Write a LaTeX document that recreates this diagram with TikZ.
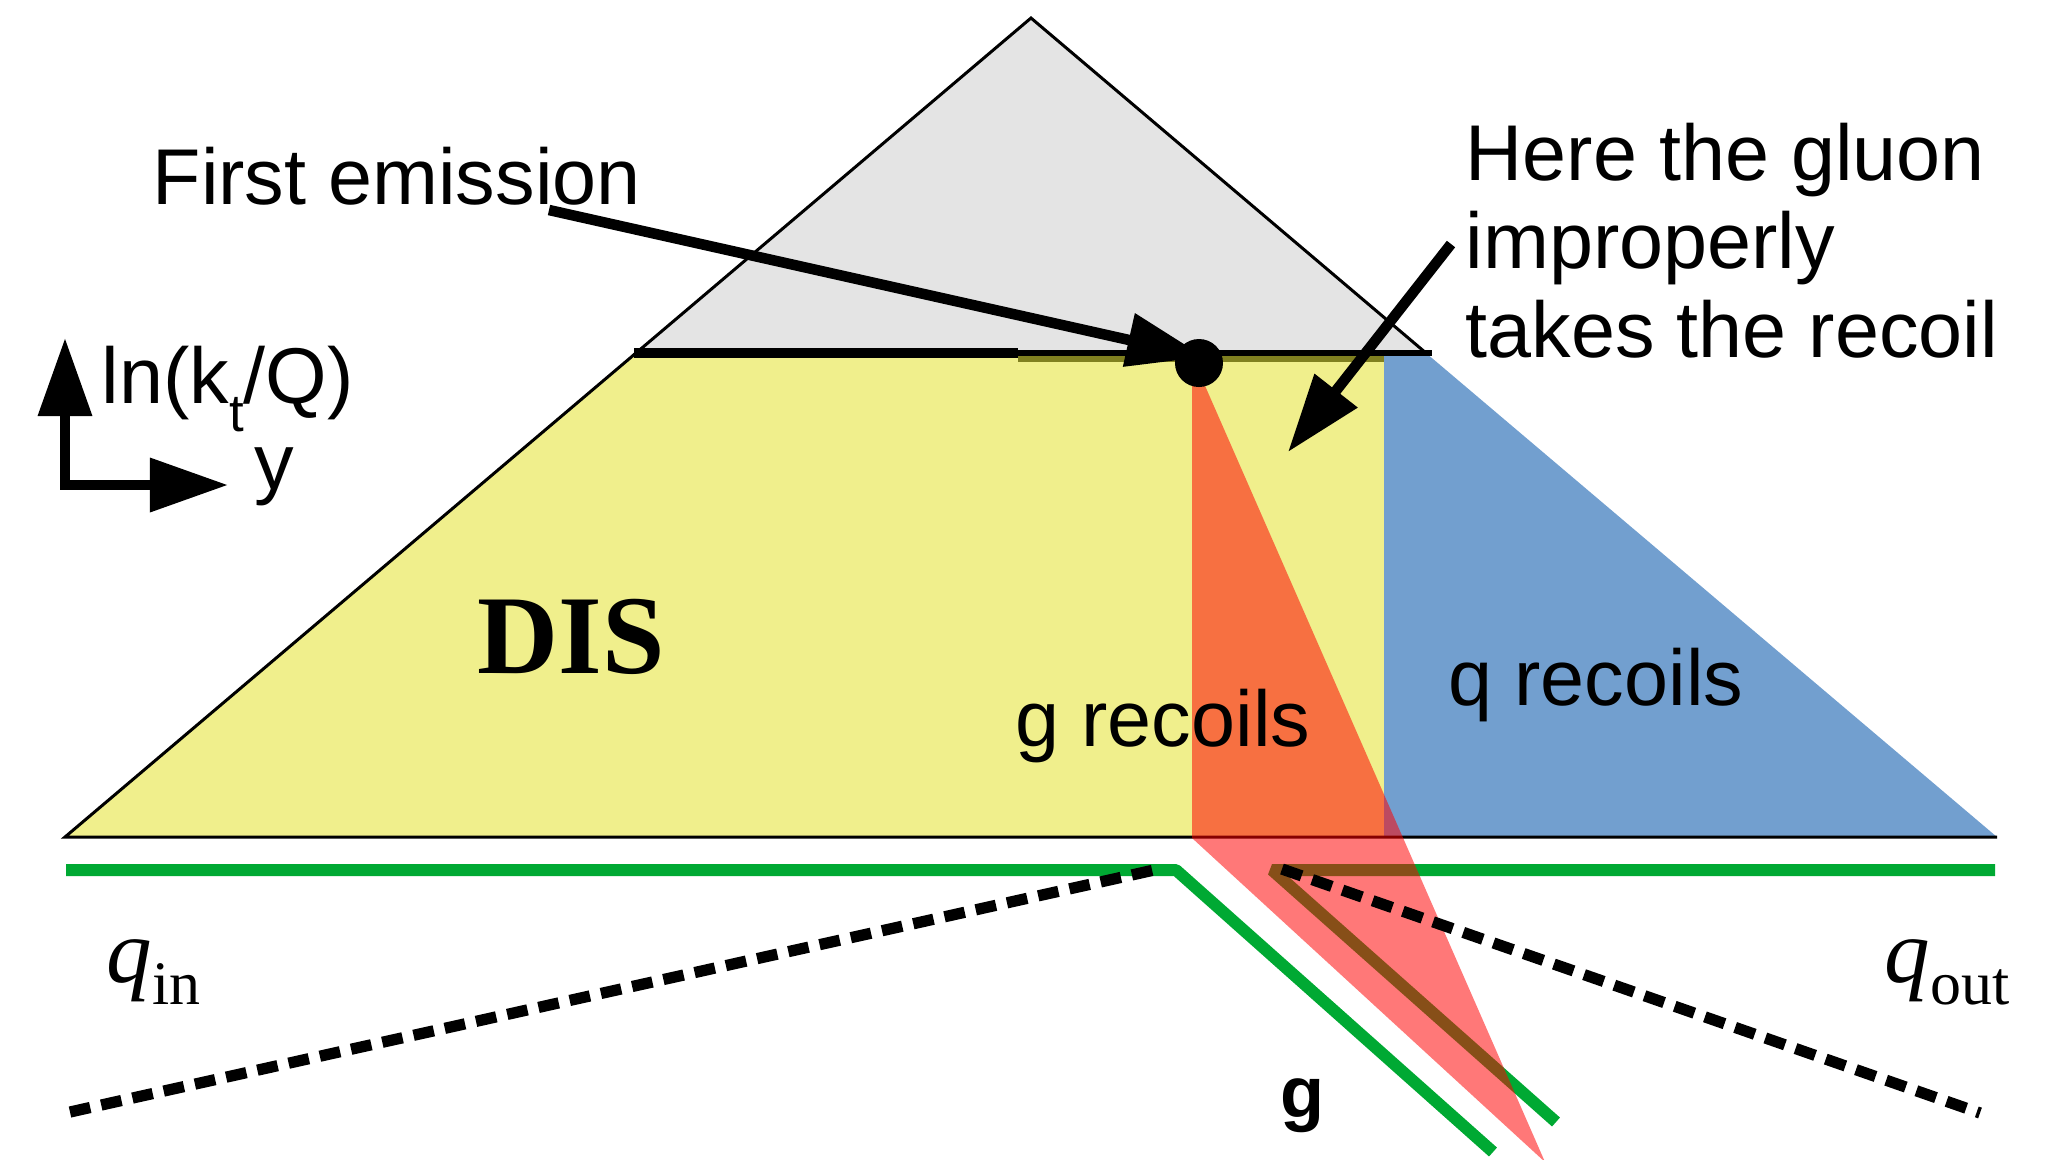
\documentclass[tikz,border=0pt]{standalone}
\usepackage{fontspec}
\setmainfont{Liberation Sans}
\newfontfamily\timesfont{Liberation Serif}
\usetikzlibrary{arrows.meta}
\definecolor{disyellow}{RGB}{240,239,140}
\definecolor{qblue}{RGB}{114,159,207}
\definecolor{conegray}{RGB}{228,228,228}
\definecolor{jetgreen}{RGB}{0,169,51}
\definecolor{edgeolive}{RGB}{128,128,32}

\begin{document}
\begin{tikzpicture}[x=0.01cm, y=-0.01cm, >={Triangle[length=7.8mm,width=5.2mm]},
    txt/.style={inner sep=0pt, anchor=base west, font=\fontsize{22.5}{25.2}\selectfont},
    serif/.style={inner sep=0pt, anchor=base west, font=\timesfont\fontsize{25.9}{26}\selectfont},
    bigarrow/.style={->, line width=3pt},
    jet/.style={jetgreen, line width=3.4pt, line join=bevel},
    quark/.style={line width=3.2pt, dash pattern=on 5.9pt off 3.2pt}]
    \useasboundingbox (0,0) rectangle (2059,1159);

    \coordinate (apex) at (1031,18);
    \coordinate (bl) at (65,837);
    \coordinate (br) at (1997,837);
    \coordinate (tl) at (636,353);
    \coordinate (tr) at (1426,353);
    \coordinate (qt) at (1384,353);
    \coordinate (qb) at (1384,837);

    \fill[disyellow] (bl) -- (tl) -- (qt) -- (qb) -- cycle;
    \fill[qblue] (qt) -- (tr) -- (br) -- (qb) -- cycle;
    \draw[fill=conegray, line width=0.85pt] (tl) -- (apex) -- (tr) -- cycle;
    \draw[line width=0.85pt] (tl) -- (bl) -- (br);
    \draw[edgeolive, line width=1.7pt] (1018,359) -- (1384,359);
    \draw[line width=1.8pt] (634,353) -- (1432,353);
    \draw[line width=2.6pt] (634,353) -- (1018,353);

    \coordinate (gl-a) at (66,870);
    \coordinate (gl-b) at (1176,870);
    \coordinate (gl-c) at (1493,1152);
    \coordinate (gr-a) at (1995,870);
    \coordinate (gr-b) at (1272,870);
    \coordinate (gr-c) at (1556,1122);
    \draw[jet] (gl-a) -- (gl-b) -- (gl-c);
    \draw[jet] (gr-a) -- (gr-b) -- (gr-c);

    \fill[red, opacity=.53] (1192,372) -- (1192,838) -- (1545,1162) -- (1199,372) -- cycle;

    \coordinate (ql-a) at (70,1112);
    \coordinate (ql-b) at (1163,868);
    \coordinate (qr-a) at (1282,869);
    \coordinate (qr-b) at (1980,1113);
    \draw[quark] (ql-a) -- (ql-b);
    \draw[quark] (qr-a) -- (qr-b);

    \node[circle, fill, inner sep=0pt, minimum size=4.8mm] (emit) at (1199,363) {};

    \node[txt] (first) at (152,204) {First emission};
    \node[txt, align=left, anchor=north west] (gluon) at (1465,122) {Here the gluon\\improperly\\takes the recoil};
    \coordinate (first-tail) at (549,210);
    \coordinate (emit-tip) at (1205,357);
    \coordinate (gluon-tail) at (1451,244);
    \coordinate (gluon-tip) at (1288,452);
    \draw[bigarrow] (first-tail) -- (emit-tip);
    \draw[bigarrow] (gluon-tail) -- (gluon-tip);

    \coordinate (ax-up) at (65,338);
    \coordinate (ax-right) at (228,485);
    \draw[<->, line width=2.85pt] (ax-up) |- (ax-right);
    \node[txt] (kt) at (101,403) {ln(k\raisebox{-8.2pt}{\fontsize{15}{15}\selectfont t}/Q)};
    \node[txt] (yax) at (254,489) {y};

    \node[serif, font=\timesfont\bfseries\fontsize{31.9}{32}\selectfont] (dis) at (477,673) {DIS};
    \node[txt] (grec) at (1015,746) {g recoils};
    \node[txt] (qrec) at (1448,705) {q recoils};

    \node[serif] (qin) at (106,982) {\textit{q}\raisebox{-6.5pt}{\fontsize{17.6}{17.6}\selectfont in}};
    \node[serif] (qout) at (1884,982) {\textit{q}\raisebox{-6.5pt}{\fontsize{17.6}{17.6}\selectfont out}};
    \node[txt, font=\bfseries\fontsize{20.5}{20.5}\selectfont] (glabel) at (1280,1117) {g};
\end{tikzpicture}
\end{document}
